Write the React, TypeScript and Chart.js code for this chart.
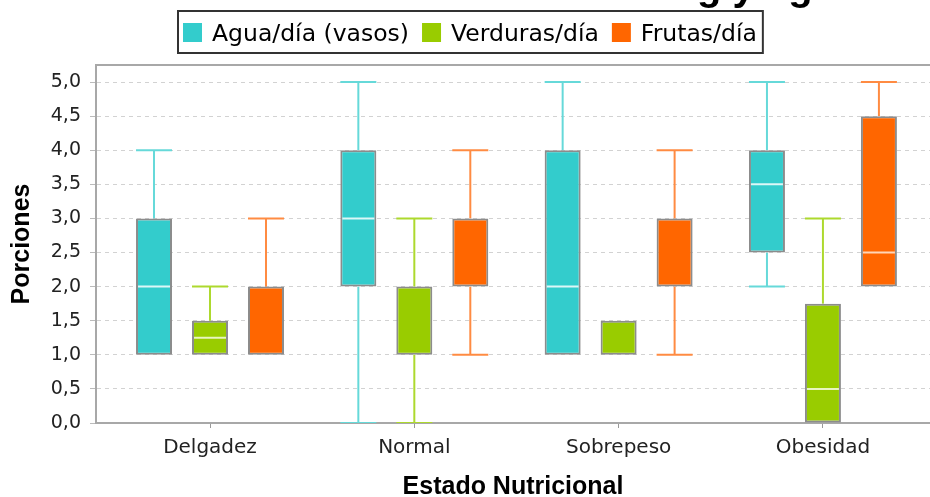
import React, { useEffect, useRef } from 'react';
import { Chart, registerables } from 'chart.js';

Chart.register(...registerables);

// ---------- data ----------
const categories = ['Delgadez', 'Normal', 'Sobrepeso', 'Obesidad'];
const seriesLabels = ['Agua/día (vasos)', 'Verduras/día', 'Frutas/día'];

const aguaMin = [1, 0, 1, 2];
const aguaQ1 = [1, 2, 1, 2.5];
const aguaMedian = [2, 3, 2, 3.5];
const aguaQ3 = [3, 4, 4, 4];
const aguaMax = [4, 5, 5, 5];

const verdurasMin = [1, 0, 1, 0];
const verdurasQ1 = [1, 1, 1, 0];
const verdurasMedian = [1.25, 2, 1.5, 0.5];
const verdurasQ3 = [1.5, 2, 1.5, 1.75];
const verdurasMax = [2, 3, 1.5, 3];

const frutasMin = [1, 1, 1, 2];
const frutasQ1 = [1, 2, 2, 2];
const frutasMedian = [2, 3, 3, 2.5];
const frutasQ3 = [2, 3, 3, 4.5];
const frutasMax = [3, 4, 4, 5];

const yTickStep = 0.5;
const yAxisMin = 0;
const yAxisMax = 5.25;

const chartTitle = 'Distribución de raciones diarias de alimentos en kg y agua';
const xAxisTitle = 'Estado Nutricional';
const yAxisTitle = 'Porciones';

// ---------- styles ----------
const fillColors = ['#33CCCC', '#99CC00', '#FF6600'];
const whiskerColors = ['#66D9D9', '#ADD92E', '#FF8B42'];
const medianColors = ['#DDF7F7', '#E8F5C0', '#FFD6B8'];
const boxBorder = '#8c8c8c';

const GROUP_OFFSET = 0.274;
const X_MIN = -0.558;
const X_MAX = 3.524;

const series = [
  { min: aguaMin, q1: aguaQ1, med: aguaMedian, q3: aguaQ3, max: aguaMax },
  { min: verdurasMin, q1: verdurasQ1, med: verdurasMedian, q3: verdurasQ3, max: verdurasMax },
  { min: frutasMin, q1: frutasQ1, med: frutasMedian, q3: frutasQ3, max: frutasMax },
];

function buildDatasets() {
  const ds: any[] = [];
  series.forEach((s, si) => {
    const xs = categories.map((_, i) => i + (si - 1) * GROUP_OFFSET);
    // boxes
    ds.push({
      type: 'bar',
      label: seriesLabels[si],
      data: xs.map((x, i) => ({ x, y: [s.q1[i], s.q3[i]] })),
      backgroundColor: fillColors[si],
      borderColor: boxBorder,
      borderWidth: 2,
      borderSkipped: false,
      maxBarThickness: 36,
      grouped: false,
      order: 1,
    });
    // upper whiskers
    ds.push({
      type: 'bar',
      data: xs.map((x, i) => ({ x, y: [s.q3[i], s.max[i]] })),
      backgroundColor: whiskerColors[si],
      borderWidth: 0,
      maxBarThickness: 2,
      grouped: false,
      order: 3,
    });
    // lower whiskers
    ds.push({
      type: 'bar',
      data: xs.map((x, i) => ({ x, y: [s.min[i], s.q1[i]] })),
      backgroundColor: whiskerColors[si],
      borderWidth: 0,
      maxBarThickness: 2,
      grouped: false,
      order: 3,
    });
    // caps
    const caps: any[] = [];
    xs.forEach((x, i) => {
      if (s.max[i] > s.q3[i]) caps.push({ x, y: s.max[i] });
      if (s.min[i] < s.q1[i]) caps.push({ x, y: s.min[i] });
    });
    ds.push({
      type: 'line',
      data: caps,
      showLine: false,
      pointStyle: 'line',
      pointRadius: 18,
      pointHoverRadius: 18,
      pointBorderWidth: 2,
      pointBorderColor: whiskerColors[si],
      borderColor: whiskerColors[si],
      order: 2,
    });
    // medians
    const meds: any[] = [];
    xs.forEach((x, i) => {
      if (s.med[i] > s.q1[i] && s.med[i] < s.q3[i]) meds.push({ x, y: s.med[i] });
    });
    ds.push({
      type: 'line',
      data: meds,
      showLine: false,
      pointStyle: 'line',
      pointRadius: 16,
      pointHoverRadius: 16,
      pointBorderWidth: 2,
      pointBorderColor: medianColors[si],
      borderColor: medianColors[si],
      order: 0,
    });
  });
  return ds;
}

const framePlugin = {
  id: 'frame',
  afterDraw(chart: any) {
    const { ctx, chartArea } = chart;
    ctx.save();
    ctx.strokeStyle = '#a8a8a8';
    ctx.lineWidth = 2;
    ctx.beginPath();
    ctx.moveTo(chartArea.left - 1, chartArea.top);
    ctx.lineTo(chartArea.right, chartArea.top);
    ctx.stroke();
    ctx.restore();
  },
};

const legendPlugin = {
  id: 'boxLegend',
  afterDraw(chart: any) {
    const ctx = chart.ctx;
    ctx.save();
    ctx.font = '23.5px "DejaVu Sans"';
    ctx.textBaseline = 'alphabetic';
    let x = 183;
    seriesLabels.forEach((label, i) => {
      ctx.fillStyle = fillColors[i];
      ctx.fillRect(x, 23, 19, 19);
      ctx.fillStyle = '#000';
      ctx.fillText(label, x + 29, 41);
      x += 29 + ctx.measureText(label).width + 13;
    });
    const right = x - 13 + 6;
    ctx.strokeStyle = '#333';
    ctx.lineWidth = 2;
    ctx.strokeRect(178, 11, right - 178, 42);
    ctx.restore();
  },
};

const titlePlugin = {
  id: 'cutTitle',
  afterDraw(chart: any) {
    const ctx = chart.ctx;
    ctx.save();
    ctx.font = 'bold 40px "Liberation Sans"';
    ctx.fillStyle = '#000';
    ctx.textBaseline = 'alphabetic';
    const prefix = chartTitle.slice(0, chartTitle.indexOf('kg') + 1);
    const x0 = 697 - ctx.measureText(prefix).width;
    ctx.fillText(chartTitle, x0, 0);
    ctx.restore();
  },
};

export default function App() {
  const ref = useRef<HTMLCanvasElement>(null);
  useEffect(() => {
    const chart = new Chart(ref.current as HTMLCanvasElement, {
      type: 'bar',
      data: { datasets: buildDatasets() as any },
      options: {
        animation: false,
        responsive: false,
        devicePixelRatio: 1,
        layout: { autoPadding: false, padding: { top: 65, left: 0, right: 0, bottom: 0 } },
        plugins: {
          legend: { display: false },
          tooltip: { enabled: false },
          title: { display: false },
        },
        scales: {
          x: {
            type: 'linear',
            min: X_MIN,
            max: X_MAX,
            offset: false,
            grid: {
              display: true,
              drawOnChartArea: false,
              drawTicks: true,
              tickLength: 5,
              tickColor: '#999',
              offset: false,
            },
            border: { display: true, color: '#a8a8a8', width: 2 },
            ticks: {
              stepSize: 1,
              includeBounds: false,
              autoSkip: false,
              maxRotation: 0,
              padding: 8,
              color: '#222',
              font: { family: 'DejaVu Sans', size: 20 },
              callback: (v: any) => categories[v] ?? '',
            },
            title: {
              display: true,
              text: xAxisTitle,
              color: '#000',
              font: { family: 'Liberation Sans', size: 25, weight: 'bold', lineHeight: 0.8 },
              padding: { top: 0, bottom: 0 },
            },
            afterFit: (s: any) => {
              s.height = 74;
              s.paddingLeft = 0;
              s.paddingRight = 0;
            },
          } as any,
          y: {
            type: 'linear',
            min: yAxisMin,
            max: yAxisMax,
            grid: {
              color: '#d2d2d2',
              lineWidth: 1,
              drawTicks: true,
              tickLength: 6,
              tickColor: '#bbb',
            },
            border: { display: true, color: '#a8a8a8', width: 2, dash: [4, 4] },
            ticks: {
              stepSize: yTickStep,
              includeBounds: false,
              padding: 9,
              color: '#222',
              font: { family: 'DejaVu Sans', size: 19 },
              callback: (v: any) => Number(v).toFixed(1).replace('.', ','),
            },
            title: {
              display: true,
              text: yAxisTitle,
              color: '#000',
              font: { family: 'Liberation Sans', size: 25, weight: 'bold' },
              padding: { top: 7, bottom: 0 },
            },
            afterFit: (s: any) => {
              s.width = 96;
              s.paddingTop = 0;
              s.paddingBottom = 0;
            },
          } as any,
        },
      },
      plugins: [framePlugin, legendPlugin, titlePlugin],
    });
    return () => chart.destroy();
  }, []);
  return (
    <div style={{ position: 'fixed', left: 0, top: 0, width: 930, height: 497, background: '#fff' }}>
      <canvas ref={ref} width={930} height={497} style={{ display: 'block', width: 930, height: 497 }} />
    </div>
  );
}
